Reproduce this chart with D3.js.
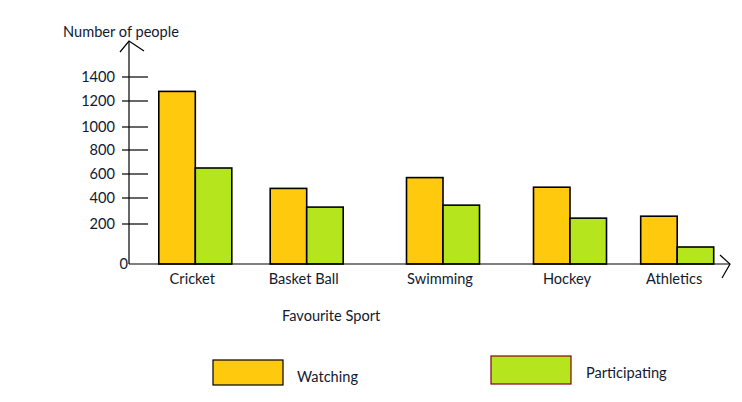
<!DOCTYPE html>
<html><head><meta charset="utf-8">
<script src="https://cdn.jsdelivr.net/npm/d3@7/dist/d3.min.js"></script>
<style>body{margin:0;background:#fff}svg{display:block}text{font-family:Lato,"Open Sans",sans-serif;fill:#111a30}</style>
</head><body><svg id="c" width="742" height="402"></svg>
<script>
const categories = ["Cricket","Basket Ball","Swimming","Hockey","Athletics"];
const watching = [1280, 480, 570, 490, 260];
const participating = [650, 330, 345, 245, 85];
const seriesNames = ["Watching","Participating"];
const yTicks = [0,200,400,600,800,1000,1200,1400];
const colors = {Watching:"#FFC90E", Participating:"#B5E61D"};

const svg = d3.select("#c");
const fs = 14.6;
// hand-drawn axis: tick marks are unevenly spaced, so the scale is piecewise linear
const y = d3.scaleLinear().domain(yTicks).range([264,224,198,174,150,127,101,77]);
const x = d3.scaleOrdinal().domain(categories).range([195.3,306.7,443,570,677.2]);
const x1 = d3.scaleBand().domain(seriesNames).range([-36.5,36.5]);

const rows = categories.map((c,i)=>({cat:c, values:[{s:"Watching",v:watching[i]},{s:"Participating",v:participating[i]}]}));

// bars
const g = svg.append("g");
g.selectAll("g.grp").data(rows).join("g").attr("class","grp")
 .attr("transform",d=>`translate(${x(d.cat)},0)`)
 .selectAll("rect").data(d=>d.values).join("rect")
 .attr("x",d=>x1(d.s)).attr("width",x1.bandwidth())
 .attr("y",d=>y(d.v)).attr("height",d=>y(0)-y(d.v))
 .attr("fill",d=>colors[d.s]).attr("stroke","#000").attr("stroke-width",1.6);

// axes
const ax = svg.append("g").attr("stroke","#000").attr("stroke-width",1.2).attr("fill","none");
const x0 = 129, yb = y(0);
ax.append("line").attr("x1",x0).attr("y1",41).attr("x2",x0).attr("y2",yb);
ax.append("polyline").attr("points",`120,52 ${x0},41 144,51`);
ax.append("line").attr("x1",x0).attr("y1",yb).attr("x2",730).attr("y2",yb);
ax.append("polyline").attr("points",`720,255 730,${yb} 722,278`);
ax.selectAll("line.tk").data(yTicks.filter(v=>v>0)).join("line").attr("class","tk")
 .attr("x1",122).attr("x2",148).attr("y1",d=>y(d)).attr("y2",d=>y(d));

// tick labels
svg.selectAll("text.yl").data(yTicks).join("text").attr("class","yl")
 .attr("x",d=>d===0?128:115).attr("y",d=>y(d)+5).attr("text-anchor","end")
 .attr("font-size",fs).text(d=>d);

// category labels
svg.selectAll("text.xl").data(categories).join("text").attr("class","xl")
 .attr("x",d=>x(d)-3).attr("y",284).attr("text-anchor","middle").attr("font-size",fs).text(d=>d);

svg.append("text").attr("x",63).attr("y",37).attr("font-size",fs).text("Number of people");
svg.append("text").attr("x",282).attr("y",321).attr("font-size",fs).text("Favourite Sport");

// legend
const leg = [{s:"Watching",bx:213,by:360,bw:70,bh:25,tx:297,ty:382,st:"#000"},
             {s:"Participating",bx:491,by:356,bw:80,bh:28,tx:586,ty:378,st:"#880015"}];
leg.forEach(l=>{
  svg.append("rect").attr("x",l.bx).attr("y",l.by).attr("width",l.bw).attr("height",l.bh)
   .attr("fill",colors[l.s]).attr("stroke",l.st).attr("stroke-width",1.2);
  svg.append("text").attr("x",l.tx).attr("y",l.ty).attr("font-size",fs).text(l.s);
});
</script></body></html>
